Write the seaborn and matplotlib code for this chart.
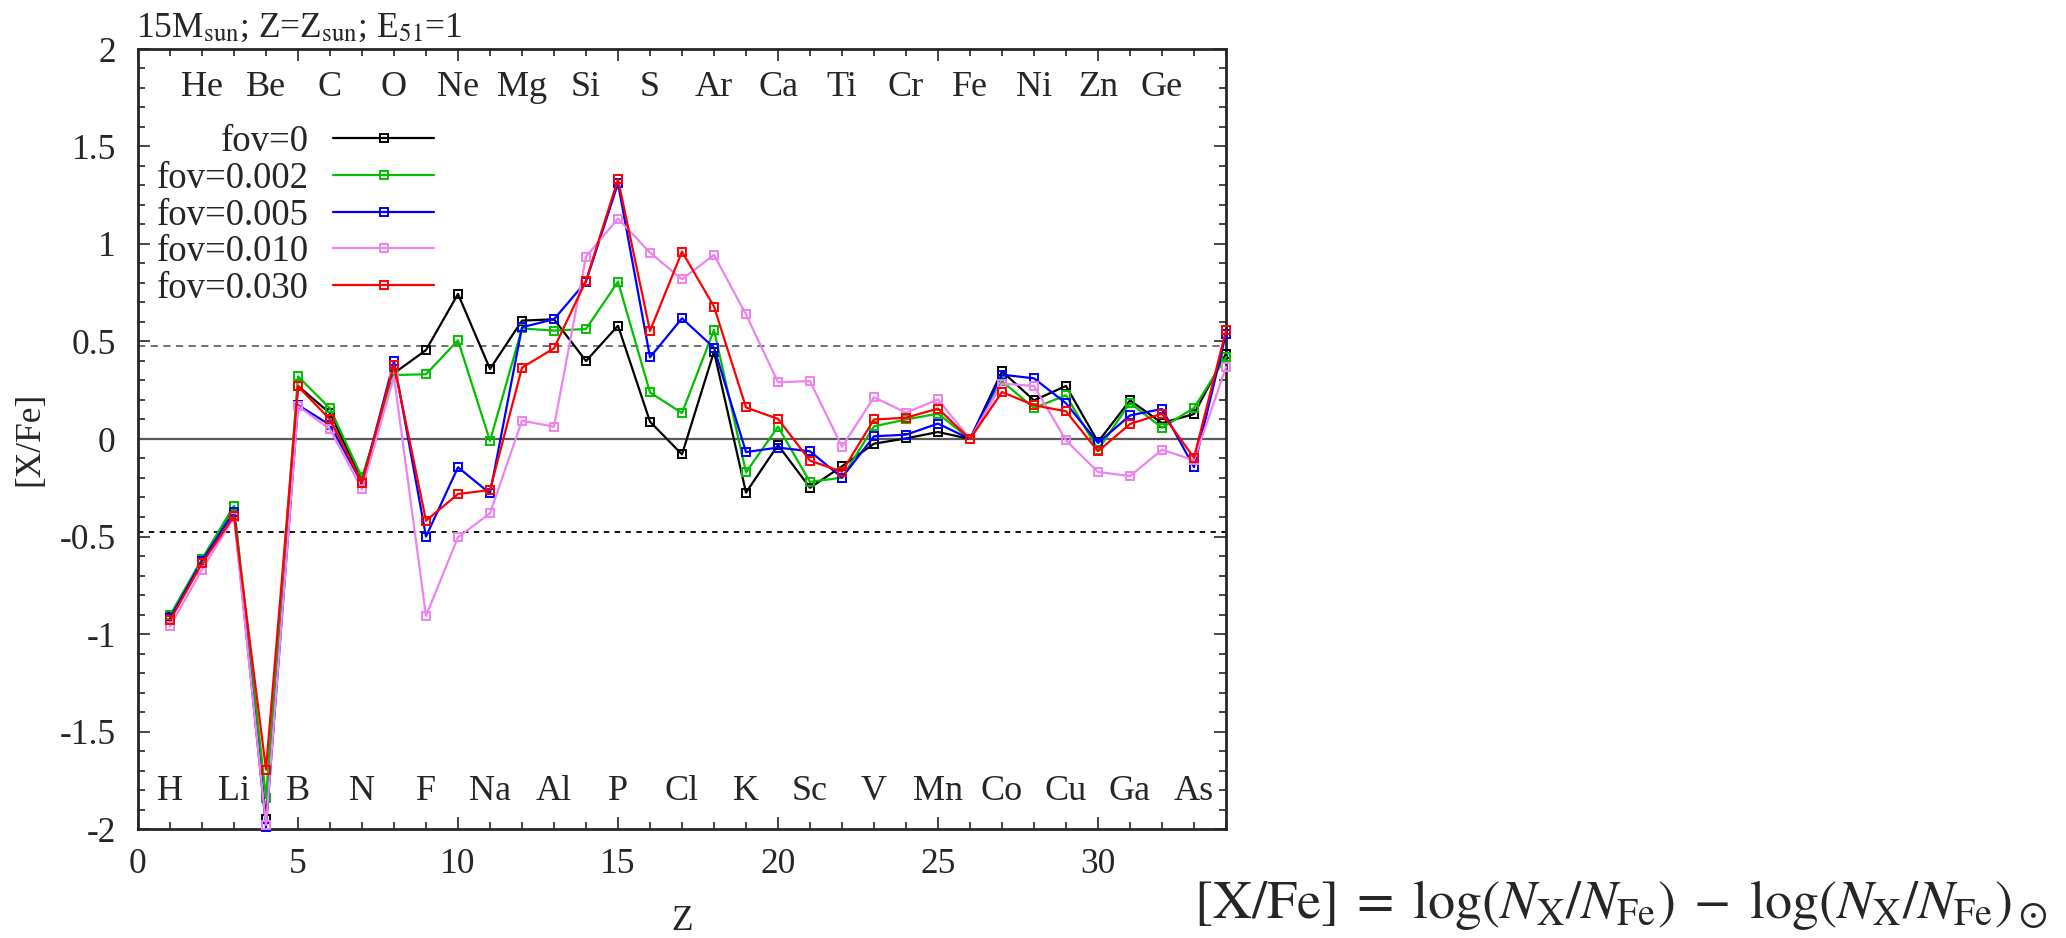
import numpy as np
import pandas as pd
import matplotlib
matplotlib.use("Agg")
import matplotlib.pyplot as plt
from matplotlib.ticker import MultipleLocator, FormatStrFormatter
import seaborn as sns

# atomic number, Z = 1 (H) ... 34 (Se)
z = np.arange(1, 35)

fov_0 = [-0.91, -0.62, -0.345, -1.95, 0.272, 0.132, -0.21, 0.337, 0.456, 0.744,
         0.359, 0.607, 0.614, 0.40, 0.581, 0.089, -0.079, 0.448, -0.275, -0.031,
         -0.25, -0.14, -0.024, 0.003, 0.036, 0.0, 0.347, 0.198, 0.272, -0.015,
         0.198, 0.082, 0.128, 0.438]
fov_002 = [-0.905, -0.615, -0.344, -1.84, 0.321, 0.157, -0.197, 0.328, 0.332, 0.506,
           -0.01, 0.567, 0.556, 0.564, 0.807, 0.239, 0.133, 0.559, -0.171, 0.063,
           -0.22, -0.198, 0.065, 0.10, 0.13, 0.0, 0.296, 0.159, 0.224, -0.055,
           0.185, 0.058, 0.159, 0.42]
fov_005 = [-0.92, -0.625, -0.373, -1.99, 0.174, 0.072, -0.227, 0.40, -0.50, -0.145,
           -0.279, 0.573, 0.614, 0.807, 1.311, 0.419, 0.619, 0.468, -0.067, -0.044,
           -0.063, -0.198, 0.014, 0.022, 0.079, 0.0, 0.33, 0.311, 0.183, -0.02,
           0.121, 0.154, -0.144, 0.54]
fov_010 = [-0.96, -0.67, -0.40, -1.98, 0.169, 0.05, -0.258, 0.32, -0.907, -0.504,
           -0.381, 0.094, 0.063, 0.935, 1.13, 0.956, 0.819, 0.944, 0.639, 0.291,
           0.297, -0.04, 0.214, 0.135, 0.203, 0.0, 0.284, 0.272, -0.007, -0.169,
           -0.19, -0.055, -0.109, 0.369]
fov_030 = [-0.93, -0.638, -0.395, -1.695, 0.27, 0.10, -0.224, 0.38, -0.419, -0.282,
           -0.262, 0.366, 0.465, 0.812, 1.332, 0.554, 0.961, 0.679, 0.162, 0.103,
           -0.111, -0.168, 0.10, 0.109, 0.156, 0.0, 0.241, 0.173, 0.142, -0.063,
           0.077, 0.13, -0.096, 0.557]

series_labels = ["fov=0", "fov=0.002", "fov=0.005", "fov=0.010", "fov=0.030"]
series_colors = ["#000000", "#00c000", "#0000ff", "violet", "#ff0000"]

elements = ["H", "He", "Li", "Be", "B", "C", "N", "O", "F", "Ne", "Na", "Mg",
            "Al", "Si", "P", "S", "Cl", "Ar", "K", "Ca", "Sc", "Ti", "V", "Cr",
            "Mn", "Fe", "Co", "Ni", "Cu", "Zn", "Ga", "Ge", "As"]

sns.set_style("ticks")
serif = ["Liberation Serif", "DejaVu Serif"]
plt.rcParams["font.serif"] = serif
plt.rcParams["font.family"] = "serif"
plt.rcParams["mathtext.fontset"] = "stix"
plt.rcParams["axes.unicode_minus"] = False
fs = 25.5

fig = plt.figure(figsize=(20.66, 9.38), dpi=100)
ax = fig.add_axes([138 / 2066, 1 - 829 / 938, 1088 / 2066, 780 / 938])

# reference lines
ax.axhline(0, color="0.35", lw=1.6, zorder=1)
ax.axhline(np.log10(3), color="0.4", lw=1.3, ls=(0, (4, 3)), zorder=1)
ax.axhline(-np.log10(3), color="black", lw=1.3, ls=(0, (3, 3)), zorder=1)

df = pd.DataFrame({"Z": z, "fov=0": fov_0, "fov=0.002": fov_002,
                   "fov=0.005": fov_005, "fov=0.010": fov_010, "fov=0.030": fov_030})
for lab, col in zip(series_labels, series_colors):
    sns.lineplot(data=df, x="Z", y=lab, ax=ax, color=col, lw=1.6, marker="s",
                 markersize=5.5, markerfacecolor="none", markeredgecolor=col,
                 markeredgewidth=1.4, label=lab, clip_on=False, zorder=3)

# element symbols: odd Z along the bottom, even Z along the top
for zz, el in zip(z, elements):
    yy = -1.81 if zz % 2 == 1 else 1.80
    ax.text(zz, yy, el, ha="center", va="center", fontsize=26, family=serif)

ax.set_xlim(0, 34)
ax.set_ylim(-2, 2)
ax.xaxis.set_major_locator(MultipleLocator(5))
ax.xaxis.set_minor_locator(MultipleLocator(1))
ax.yaxis.set_major_locator(MultipleLocator(0.5))
ax.yaxis.set_minor_locator(MultipleLocator(0.1))
ax.yaxis.set_major_formatter(FormatStrFormatter("%g"))
ax.set_xticks([0, 5, 10, 15, 20, 25, 30])
ax.tick_params(which="both", direction="in", top=True, right=True, labelsize=fs,
               width=1.2, labelfontfamily="Liberation Serif")
ax.tick_params(which="major", length=8.6)
ax.tick_params(which="minor", length=5)
ax.tick_params(axis="y", pad=16)
ax.tick_params(axis="x", pad=14)
for sp in ax.spines.values():
    sp.set_linewidth(2)
    sp.set_visible(True)

ax.set_xlabel("Z", fontsize=fs, family=serif)
ax.set_ylabel("[X/Fe]", fontsize=fs, family=serif)
ax.xaxis.set_label_coords(0.5, -(905 - 829) / 780)
ax.yaxis.set_label_coords((46 - 138) / 1088, 0.5)

leg = ax.legend(loc="upper right", bbox_to_anchor=(0.272, 0.903), frameon=False,
                markerfirst=False, prop={"family": serif, "size": 26.5},
                handlelength=2.74, handletextpad=0.65, labelspacing=0.06,
                borderpad=0, borderaxespad=0)

fig.text(136 / 2066, 1 - 37 / 938, r"15M$_{\rm sun}$; Z=Z$_{\rm sun}$; E$_{51}$=1",
         fontsize=fs, ha="left", va="baseline", family=serif)
fig.text(1194 / 2066, 1 - 918 / 938,
         r"$[\mathrm{X/Fe}]\;=\;\log(N_\mathrm{X}/N_\mathrm{Fe})\;-\;\log(N_\mathrm{X}/N_\mathrm{Fe})_\odot$",
         fontsize=39, ha="left", va="baseline")

fig.savefig("out.png", dpi=100)
